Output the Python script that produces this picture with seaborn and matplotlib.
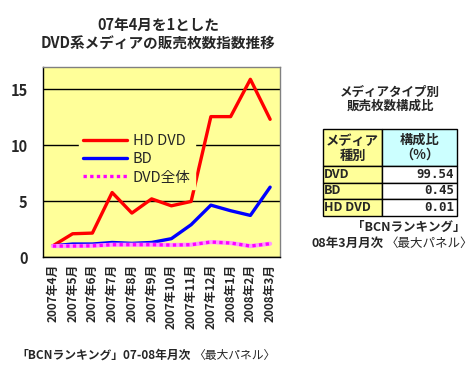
import matplotlib
matplotlib.use("Agg")
import matplotlib.pyplot as plt
from matplotlib.patches import Rectangle
from matplotlib.lines import Line2D
from matplotlib.ticker import FixedLocator
import pandas as pd
import seaborn as sns

months = ["2007年4月", "2007年5月", "2007年6月", "2007年7月", "2007年8月", "2007年9月",
          "2007年10月", "2007年11月", "2007年12月", "2008年1月", "2008年2月", "2008年3月"]
hd_dvd = [1.0, 2.08, 2.14, 5.77, 3.93, 5.2, 4.58, 4.97, 12.56, 12.56, 15.9, 12.32]
bd = [1.0, 1.16, 1.16, 1.3, 1.22, 1.3, 1.64, 2.89, 4.64, 4.14, 3.72, 6.25]
dvd_all = [0.98, 0.98, 1.0, 1.1, 1.1, 1.1, 1.07, 1.1, 1.34, 1.25, 0.98, 1.19]
series_names = ["HD DVD", "BD", "DVD全体"]

media_types = ["DVD", "BD", "HD DVD"]
shares = ["99.54", "0.45", "0.01"]

sns.set_style("white")
plt.rcParams['font.family'] = ['Noto Sans CJK JP', 'DejaVu Sans']

df = pd.DataFrame({
    "month": months * 3,
    "value": hd_dvd + bd + dvd_all,
    "series": [series_names[0]] * 12 + [series_names[1]] * 12 + [series_names[2]] * 12,
})

fig = plt.figure(figsize=(4.73, 3.74), dpi=100)
fig.patch.set_facecolor("white")
W, H = 473, 374
ax = fig.add_axes([43 / W, 1 - 257 / H, 237 / W, 190 / H])
ax.set_facecolor("#FFFF99")

palette = {"HD DVD": "#FF0000", "BD": "#0000FF", "DVD全体": "#FF00FF"}
sns.lineplot(data=df[df.series != "DVD全体"], x="month", y="value", hue="series",
             palette=palette, sort=False, lw=2.4, ax=ax, legend=False)
# DVD overall: pink checkered look
sns.lineplot(data=df[df.series == "DVD全体"], x="month", y="value", color="#FF99FF",
             sort=False, lw=3.0, ax=ax, legend=False)
sns.lineplot(data=df[df.series == "DVD全体"], x="month", y="value", color="#FF00FF",
             sort=False, lw=2.4, ls=(0, (1, 1)), ax=ax, legend=False)

ax.set_xlim(-0.5, 11.5)
ax.set_ylim(0, 17)
ax.set_yticks([0, 5, 10, 15])
ax.yaxis.grid(True, color="black", lw=1)
ax.set_axisbelow(True)
for sp in ax.spines.values():
    sp.set_color("#808080")
    sp.set_linewidth(1)
ax.spines["bottom"].set_color("black")
ax.spines["left"].set_color("black")
ax.set_xlabel("")
ax.set_ylabel("")
ax.set_xticks(range(12))
ax.set_xticklabels(months, rotation=90, fontsize=8.5, fontweight="bold")
ax.tick_params(axis="x", which="major", length=0, pad=5)
ax.xaxis.set_minor_locator(FixedLocator([i + 0.5 for i in range(11)]))
ax.tick_params(axis="x", which="minor", length=4, direction="in", color="black", width=1)
ax.tick_params(axis="y", length=0, labelsize=10.5, pad=11)
for t in ax.get_yticklabels():
    t.set_fontweight("bold")

handles = [Line2D([], [], color="#FF0000", lw=2.4),
           Line2D([], [], color="#0000FF", lw=2.4),
           Line2D([], [], color="#FF00FF", lw=2.4, ls=(0, (1, 1)))]
leg = ax.legend(handles, series_names, loc="upper left", bbox_to_anchor=(0.12, 0.71),
                frameon=True, facecolor="#FFFF99", edgecolor="#FFFF99", framealpha=1,
                fontsize=10.5, handlelength=3.0, borderpad=0.3, labelspacing=0.3,
                handletextpad=0.4, fancybox=False)

# titles and captions
fig.text(158 / W, 1 - 25 / H, "07年4月を1とした", ha="center", va="center",
         fontsize=10.5, fontweight="bold")
fig.text(158 / W, 1 - 44 / H, "DVD系メディアの販売枚数指数推移", ha="center", va="center",
         fontsize=10.5, fontweight="bold")
fig.text(16 / W, 1 - 355 / H, "「BCNランキング」07-08年月次", ha="left", va="center",
         fontsize=8.5, fontweight="bold")
fig.text(193 / W, 1 - 355 / H, "〈最大パネル〉", ha="left", va="center", fontsize=8.5)

fig.text(390 / W, 1 - 92 / H, "メディアタイプ別", ha="center", va="center",
         fontsize=9, fontweight="bold")
fig.text(390 / W, 1 - 106 / H, "販売枚数構成比", ha="center", va="center",
         fontsize=9, fontweight="bold")
fig.text(465 / W, 1 - 227 / H, "「BCNランキング」", ha="right", va="center",
         fontsize=9, fontweight="bold")
fig.text(384 / W, 1 - 243 / H, "08年3月月次", ha="right", va="center",
         fontsize=9, fontweight="bold")
fig.text(386 / W, 1 - 243 / H, "〈最大パネル〉", ha="left", va="center", fontsize=9)

# table
tax = fig.add_axes([320 / W, 1 - 220 / H, 142 / W, 95 / H])
tax.set_xlim(320, 462)
tax.set_ylim(220, 125)
tax.axis("off")
x0, xm, x1 = 323, 382, 457
rows = [129, 166, 183, 199, 216]
tax.add_patch(Rectangle((x0, rows[0]), xm - x0, rows[1] - rows[0], fc="#FFFF99", ec="black", lw=1))
tax.add_patch(Rectangle((xm, rows[0]), x1 - xm, rows[1] - rows[0], fc="#CCFFFF", ec="black", lw=1))
tax.text((x0 + xm) / 2, 141, "メディア", ha="center", va="center", fontsize=9.5, fontweight="bold")
tax.text((x0 + xm) / 2, 156, "種別", ha="center", va="center", fontsize=9.5, fontweight="bold")
tax.text((xm + x1) / 2, 140, "構成比", ha="center", va="center", fontsize=9.5, fontweight="bold")
tax.text((xm + x1) / 2, 155, "（%）", ha="center", va="center", fontsize=9.5, fontweight="bold")
for i, (m, s) in enumerate(zip(media_types, shares)):
    top, bot = rows[i + 1], rows[i + 2]
    tax.add_patch(Rectangle((x0, top), xm - x0, bot - top, fc="#FFFF99", ec="black", lw=1))
    tax.add_patch(Rectangle((xm, top), x1 - xm, bot - top, fc="white", ec="black", lw=1))
    tax.text(x0 + 1, (top + bot) / 2, m, ha="left", va="center", fontsize=9, fontweight="bold")
    tax.text(x1 - 3, (top + bot) / 2, s, ha="right", va="center",
             fontsize=9, fontweight="bold", family="DejaVu Sans Mono")

fig.savefig("out.png", dpi=100)
